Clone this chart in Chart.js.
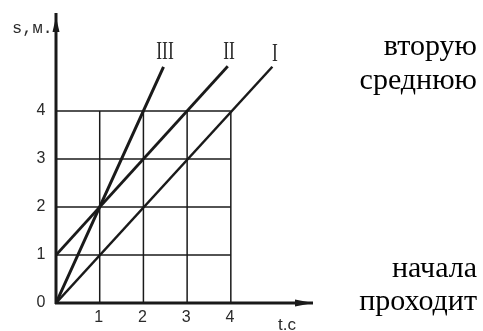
<!DOCTYPE html>
<html><head><meta charset="utf-8">
<script src="https://cdn.jsdelivr.net/npm/chart.js@4"></script>
<style>html,body{margin:0;padding:0;background:#fff}#wrap{width:483px;height:331px;position:relative}</style>
</head><body><div id="wrap"><canvas id="c" width="483" height="331"></canvas></div>
<script>
const xTicks = [1, 2, 3, 4];
const yTicks = [0, 1, 2, 3, 4];
const gridMax = 4;
const lineI_t = [0, 4.95];
const lineI_s = [0, 4.92];
const lineII_t = [0, 3.93];
const lineII_s = [1, 4.93];
const lineIII_t = [0, 1, 2, 2.46];
const lineIII_s = [0, 2, 4, 4.92];
const lineNames = ['I', 'II', 'III'];
const axisTitles = ['t.c', 's,м.'];
const sideTexts = ['вторую', 'среднюю', 'начала', 'проходит'];

function pts(t, s){ return t.map((v,i)=>({x:v, y:s[i]})); }
const ink = '#1a1a1a';

const drawPlugin = {
  id: 'drawPlugin',
  beforeDatasetsDraw(chart){
    const ctx = chart.ctx, x = chart.scales.x, y = chart.scales.y;
    ctx.save();
    ctx.strokeStyle = ink; ctx.lineWidth = 1.5;
    const gx = [0].concat(xTicks);
    gx.forEach(v=>{
      const px = x.getPixelForValue(v);
      ctx.beginPath(); ctx.moveTo(px, y.getPixelForValue(0)); ctx.lineTo(px, y.getPixelForValue(gridMax)); ctx.stroke();
    });
    yTicks.forEach(v=>{
      const py = y.getPixelForValue(v);
      ctx.beginPath(); ctx.moveTo(x.getPixelForValue(0), py); ctx.lineTo(x.getPixelForValue(gridMax), py); ctx.stroke();
    });
    const ox = x.getPixelForValue(0), oy = y.getPixelForValue(0);
    ctx.lineWidth = 3;
    ctx.beginPath(); ctx.moveTo(ox, oy+1); ctx.lineTo(ox, chart.chartArea.top); ctx.stroke();
    ctx.beginPath(); ctx.moveTo(ox-1, oy); ctx.lineTo(chart.chartArea.right, oy); ctx.stroke();
    ctx.fillStyle = ink;
    const top = chart.chartArea.top;
    ctx.beginPath(); ctx.moveTo(ox, top+4); ctx.lineTo(ox-3.5, top+19); ctx.lineTo(ox+3.5, top+19); ctx.closePath(); ctx.fill();
    const right = chart.chartArea.right;
    ctx.beginPath(); ctx.moveTo(right, oy); ctx.lineTo(right-18, oy-3.5); ctx.lineTo(right-18, oy+3.5); ctx.closePath(); ctx.fill();
    ctx.restore();
  },
  afterDraw(chart){
    const ctx = chart.ctx, x = chart.scales.x, y = chart.scales.y;
    ctx.save();
    ctx.fillStyle = '#2a2a2a';
    ctx.font = '16px "Liberation Sans Narrow", "Liberation Sans", sans-serif';
    ctx.textAlign = 'center'; ctx.textBaseline = 'middle';
    yTicks.forEach(v=>{ ctx.fillText(String(v), 41, y.getPixelForValue(v)); });
    xTicks.forEach(v=>{ ctx.fillText(String(v), x.getPixelForValue(v)-1, 318); });
    ctx.textAlign = 'left'; ctx.textBaseline = 'alphabetic';
    ctx.font = '17px "Liberation Sans Narrow", "Liberation Sans", sans-serif';
    ctx.fillText(axisTitles[0], 278, 330);
    ctx.font = '17px "Liberation Mono", monospace';
    ctx.fillText(axisTitles[1], 12, 33);
    ctx.font = '25px "Liberation Serif", serif';
    ctx.textAlign = 'center'; ctx.textBaseline = 'middle';
    const roman = (txt, cx, cy) => { ctx.save(); ctx.translate(cx, cy); ctx.scale(0.7, 1); ctx.fillText(txt, 0, 0); ctx.restore(); };
    roman(lineNames[2], 165, 52);
    roman(lineNames[1], 229, 52);
    roman(lineNames[0], 275, 54);
    ctx.fillStyle = '#000';
    ctx.font = '30px "Liberation Serif", serif';
    ctx.textAlign = 'right'; ctx.textBaseline = 'alphabetic';
    ctx.fillText(sideTexts[0], 477, 55);
    ctx.fillText(sideTexts[1], 477, 89);
    ctx.fillText(sideTexts[2], 477, 277);
    ctx.fillText(sideTexts[3], 477, 310);
    ctx.restore();
  }
};

const ds = (t, s, w) => ({data: pts(t, s), showLine: true, borderColor: ink, borderWidth: w, pointRadius: 0, fill: false, tension: 0});

new Chart(document.getElementById('c'), {
  type: 'scatter',
  data: { datasets: [ ds(lineI_t, lineI_s, 2.5), ds(lineII_t, lineII_s, 2.8), ds(lineIII_t, lineIII_s, 3) ] },
  options: {
    responsive: false, animation: false,
    layout: { padding: { left: 56, right: 170, top: 13, bottom: 28 } },
    plugins: { legend: { display: false }, tooltip: { enabled: false } },
    scales: {
      x: { type: 'linear', display: false, min: 0, max: 5.88 },
      y: { type: 'linear', display: false, min: 0, max: 6.04 }
    }
  },
  plugins: [drawPlugin]
});
</script></body></html>
